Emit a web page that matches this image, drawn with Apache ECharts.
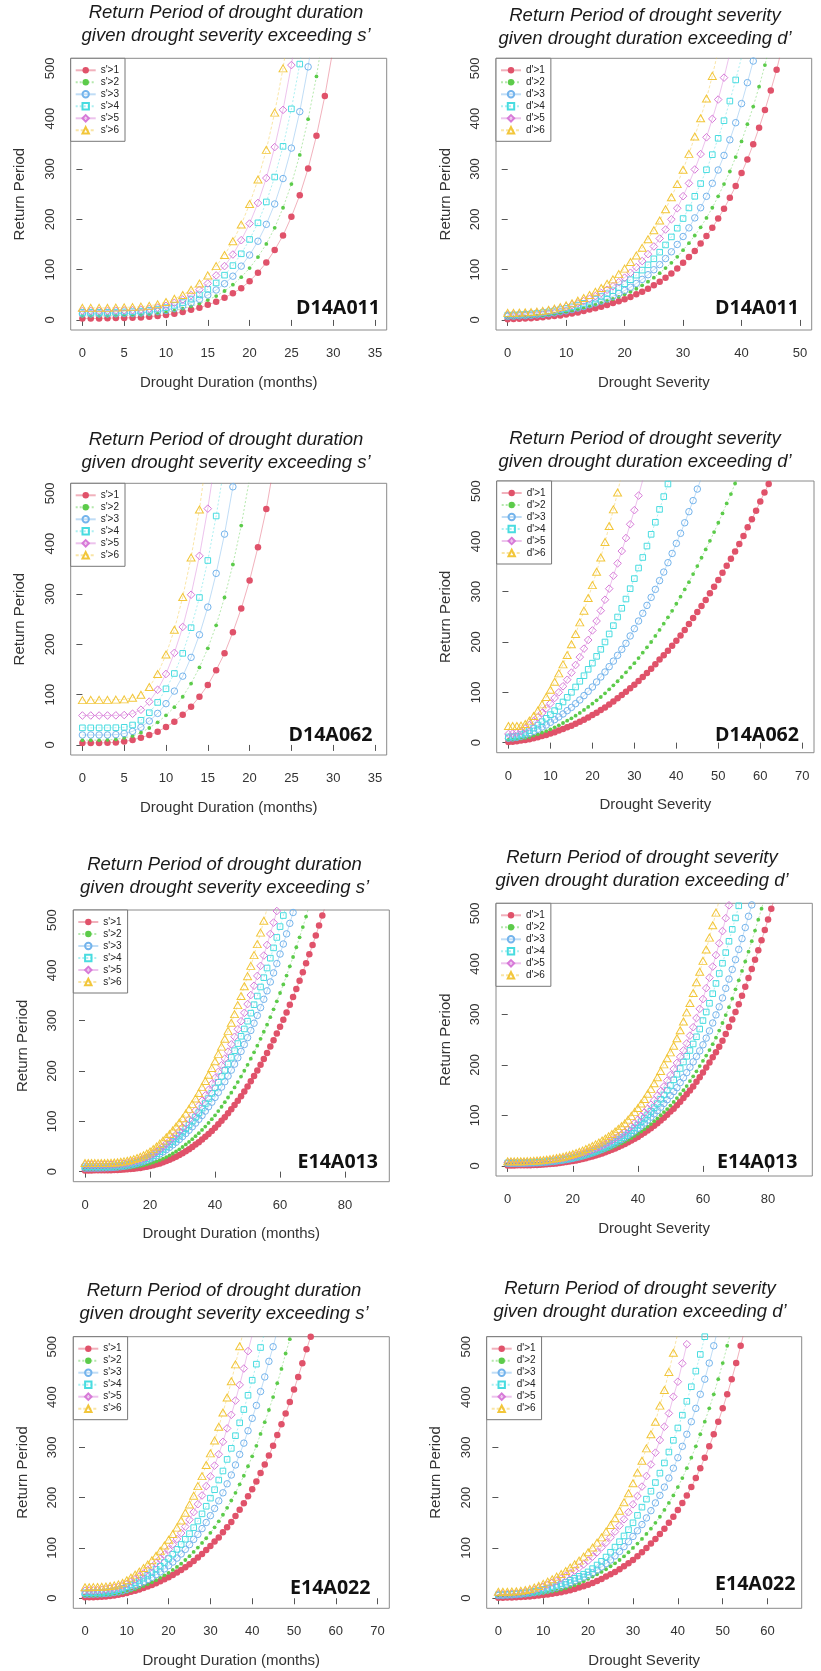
<!DOCTYPE html>
<html>
<head>
<meta charset="utf-8">
<script src="https://cdn.jsdelivr.net/npm/echarts@6/dist/echarts.min.js"></script>
<style>
html, body { margin: 0; padding: 0; background: #ffffff; }
#chart { width: 821px; height: 1671px; }
</style>
</head>
<body>
<div id="chart"></div>
<script>
// Legend labels for the two kinds of conditional return-period curves
const sLabels = ["s'>1", "s'>2", "s'>3", "s'>4", "s'>5", "s'>6"];
const dLabels = ["d'>1", "d'>2", "d'>3", "d'>4", "d'>5", "d'>6"];

// Tick labels
const yTicks = [0, 100, 200, 300, 400, 500];
const ticks35 = [0, 5, 10, 15, 20, 25, 30, 35];
const ticks50 = [0, 10, 20, 30, 40, 50];
const ticks60 = [0, 10, 20, 30, 40, 50, 60];
const ticks70 = [0, 10, 20, 30, 40, 50, 60, 70];
const ticks80 = [0, 20, 40, 60, 80];

// Return period (years) for each threshold; array index = duration (months) or severity
const D14A011_duration = [
  [3,3,3,3.5,4,4,4.5,5,6.5,8,10,12.5,16,20,24,30,36,44,53,63,77,94,114,139,168,205,248,301,366,445,540],
  [8,8,8,8,8.5,9,9,10,11,12.5,15,18.5,22.5,27,32.5,39.5,47.5,57.5,70,85,103,125,151,183,223,270,328,399,484,588],
  [12,12,12,12,12.5,13,13,14,15.5,17,19,23,28,34,41,49.5,59.5,72,87,107,129,156.5,190,230.5,281,341.5,414,503,611],
  [15,15,15,15,15.5,16,16.5,17.5,19,21.5,24.5,29,34.5,41.5,50,61,73.5,89,108,131.5,160,193,234.5,284,345,419.5,508.5,617],
  [18,18,18,18,18.5,19,19.5,20.5,22,24.5,28,34,40.5,49.5,60,72.5,88.5,107,130,158.5,191.5,232.5,282,343.5,417.5,506.5,615],
  [24,24,24,24,24.5,25,25.5,26.5,28,31,35.5,42,49.5,60,72.5,88.5,107,129,156.5,189.5,230.5,279,338,412,500,607]
];

const D14A011_severity = [
  [1.5,2,2.5,3,3.5,4.5,5.3,6.6,8,9,11,13,15,18,20.5,23,26.4,29.7,33.7,37,41,45.6,51,56,62,68.7,76,84,92.5,102,113.6,125,137,152,167,183,201.5,221,243,266,292,319,349,382,417,456,497,545],
  [4.5,5,5.5,6,7,8,9,10.5,12,14,16,18.5,21,24,27,30.5,34,37.6,41.6,46,51,56,62,68.7,76,84,93,103,113.6,125.5,138.7,152.6,167.8,184,202.8,223,245.7,270,295,323.6,354.7,389,424,463.7,506.6,555],
  [7,7.5,8,8.5,9,10,11,12.5,14,16,18,20.5,23.5,26.5,30,33.5,37.5,42,47,52.5,58.5,65,72.5,80.6,89.8,99.7,110,122,135.4,150,165.8,183,202.8,223,245.7,271.5,298,327,358,392,430,471.6,514.5,565],
  [9.5,10,10.5,11,12,13,14.5,16,18,20.5,23,26,29.5,33,37,41.5,46.5,52,58,64.5,72,80,89,99,109.6,121.5,134.7,149,165,182.3,201.5,222.6,245.7,271,298.5,328.5,361,396,435,477,522],
  [10,10.5,11,11.8,12.8,14,15.5,17.3,19.5,22.5,26,29.5,33,37.5,42,47.5,53.5,60,67,75,84,93.8,105,117,130.8,146,161.8,179.7,200,222,246,271.5,299,329.6,363,399.6,438,481.5,530],
  [14,14,14.5,15,15.5,16.5,18,20,22.5,25.5,29,33,38.3,43.6,49.5,56,63.4,72,80.6,91,102,115,128,143.3,160.5,178.3,197.5,220,243.7,270,298.5,330,364.6,401,440,485,535]
];

const D14A062_duration = [
  [4,4,4,4.5,5,7,10,14.5,19.8,26.4,35.7,46,60,76,95.8,119,148.6,182,224,271,327,393,469,565],
  [9.5,9.5,9.5,10,11,14,17.8,24.4,33.7,45,58.8,75,95.8,122,154,192,237.8,293,358.6,436,530],
  [19.8,19.8,19.8,19.8,20.5,22.5,27,35,47.6,62.7,82,107,136.7,174,219,274,341,419,513,620],
  [34,34,34,34,34.3,35,39.6,49,64,84.5,111.6,142,182,233,293,366.6,455,556],
  [58.5,58.5,58.5,58.5,58.8,59.4,62,70,86,109.6,141,183,234.5,298.5,375.8,469.6,580],
  [89,89.5,89.5,89.5,90,90.5,93.8,99.7,115,141,179.7,229,294,372.5,468,590]
];

const D14A062_severity = [
  [1.3,2,2.6,4,5.3,6.6,8.6,10.6,13,15,18,20.5,24,27,30.5,33.8,37.7,41.7,45.7,50,55,59.6,65,70,76,82,88,94.7,101.3,108,115.2,122.5,130.5,138.4,147,155.6,165,173.5,182.8,192.7,202.6,213,224,235.8,247.7,259.6,271.5,283.4,296.7,310,323,337.7,351.7,365.6,380,395,410.6,428,444,461,479.5,497,514,532],
  [5.3,6,6.6,8,9,11,14,16.6,20,23,26.5,30.5,34.4,39,43.7,48.3,53.6,59,65,71,77.5,84,90.7,98,106,114,122,130.5,139.7,149,158,168,178.8,189.4,200,212,224,236.4,249,262,276,290,304.6,319,335,351,367.5,384,401,418.5,437,455.6,475.5,494,515,536],
  [8.6,9.3,10.6,12.6,15.2,18.5,22.5,26.5,31,35,40.4,45.7,51,57,63.6,70,77.5,84.8,93.4,102,110.6,120.5,130.5,140.4,151,162,173.5,185.4,197.4,212,226.5,241.7,257,272.8,288.7,304.6,322,339,357.6,376,396,416,437,459,481,504,527],
  [11.3,12,13,16,19.2,23.8,29,35,41.7,48.3,55.6,63.6,72.2,80.8,90,100,110.6,121.9,133,145.7,158,171.5,185.4,200,216,232.5,249.7,267,285.4,306,326,347,368,390.7,414,438,463.6,489,514,540],
  [17.2,18,20,23,28.5,35,42.4,50.3,59,68,78,88.7,100,112,125,139,154.3,170,186.8,204,223,241.7,262.3,284,306,331.8,356.3,380.8,406.6,434,462,491,522,553],
  [33,33,33,33.8,37,43.7,53,63.6,76,90.7,105,121,137.7,155.6,174,195.4,216,239,262.3,287.4,313,339.7,368,398.7,430.5,463.6,497,535]
];

const E14A013_duration = [
  [2.5,2.5,2.5,2.51,2.53,2.57,2.64,2.74,2.87,3.06,3.3,3.61,4,4.5,5.04,5.7,6.5,7.4,8.5,9.7,11.1,12.7,14.5,16.4,18.6,21,23.7,26.6,29.7,33,36.6,40.5,44.6,49,53.7,58.6,63.8,69.3,75,81,87.3,94,101,108.3,116,124,132.3,141,150,159.5,169.3,179.5,190,201,212.3,224,236,248.5,261.3,274.5,288,302,316.5,331.5,347,363,379.5,396.5,414,432,450.5,469.5,489,509,529.5],
  [5,5,5,5,5.05,5.09,5.17,5.3,5.47,5.7,6,6.4,6.9,7.5,8.2,9.1,10.1,11.3,12.7,14.3,16.1,18.1,20.4,22.9,25.8,28.9,32.3,36,40,44.4,49,54,59.1,64.6,70.4,76.5,83,89.6,96.8,104.3,112,120.4,129,138,147.3,157,167.3,178,189,200.5,212.3,224.6,237.2,250.4,264,278,292,307,322.5,338.5,355,372,389.7,408,426.6,446,465.7,486,507,528.5],
  [7,7,7,7.02,7.05,7.23,7.41,7.67,8,8.48,9.06,9.8,10.65,11.7,12.9,14.4,16,17.9,20.05,22.5,25.2,28.2,31.5,35.2,39.2,43.6,48.2,53.2,58.4,63.9,69.8,75.9,82.3,89.2,96.4,103.9,111.6,120.3,129,138,147.6,157.5,168,178.8,190,201.7,213.7,226.3,239,252.6,266.3,280.6,295,310.4,326,342.5,359.3,377,395,413.5,432.5,452.4,472.6,493.5,515,537],
  [10,10,10,10,10.09,10.18,10.33,10.55,10.87,11.3,11.83,12.5,13.4,14.4,15.6,17.1,18.8,20.8,23.1,25.7,28.7,32,35.7,39.8,44.4,49.2,54.5,60,65.8,72,78.6,85.5,92.8,100.5,108.6,117.2,126.2,135.4,145.3,155.6,166.4,177.6,189.2,201.3,214,227,240.4,254.5,269,283.6,299,315,331.8,349,367,385.5,404.7,424.3,444.7,465.5,487,509,531],
  [13,13,13,13,13.03,13.1,13.2,13.36,13.6,13.9,14.4,15,15.75,16.7,17.9,19.4,21.1,23.2,25.65,28.5,31.8,35.6,39.9,44.8,50,55.4,61.2,67.4,73.9,80.7,88,95.7,103.8,112.5,121.6,131,141,151.4,162.6,174,186,198.2,211.2,224.6,238.5,253,268,283,299,315.6,333,351,369.5,389,409,429.5,450.5,472.4,495,518],
  [17,17,17,17,17.02,17.13,17.26,17.46,17.76,18.2,18.74,19.5,20.4,21.6,23.1,24.9,27.1,29.6,32.6,36.1,40.1,44.7,50,55.6,61.6,68.2,74.8,82,89.6,97.7,106.2,115.3,124.8,134.7,145.3,156.3,168,180,192.6,205.8,219.5,234,248.5,264,279.7,296,313,331,349,368.5,388.5,409,430.3,452.2,475,498.5,523]
];

const E14A013_severity = [
  [1,1,1.02,1.05,1.11,1.2,1.34,1.51,1.73,2,2.34,2.73,3.18,3.71,4.31,5,5.75,6.6,7.53,8.56,9.7,10.9,12.2,13.7,15.2,16.9,18.6,20.5,22.5,24.7,26.9,29.3,31.9,34.5,37.4,40.3,43.4,46.7,50.1,53.7,57.4,61.6,65.6,70,74.5,79.3,84.5,90,95.3,101.5,107.5,113.4,120,127,134.5,142,149.5,157,166.5,175.5,185,195,205,215,225,236,248,261,275,290,305,320,337,355,372,390,408,427,447,467,488,509,531],
  [3,3,3.02,3.05,3.12,3.22,3.36,3.54,3.78,4.07,4.42,4.84,5.32,5.88,6.52,7.24,8.05,8.95,9.94,11,12.2,13.5,14.9,16.5,18.1,19.9,21.7,23.7,25.9,28.2,30.6,33.1,35.8,38.7,41.7,44.8,48.1,51.6,55.2,59.4,63.7,68,72.7,77.6,82.8,88.5,94,100.3,106.5,112.6,119.4,126.6,134.4,142.2,150,158,168,177.3,187.3,197.7,208,218.5,229.3,241,254,268,283,298.7,314.3,331.2,349.6,367.5,386,404.8,424.3,445,466,487.6,509.4,531],
  [5,5,5.02,5.05,5.11,5.2,5.34,5.52,5.76,6.05,6.41,6.85,7.35,7.94,8.62,9.4,10.3,11.2,12.3,13.5,14.8,16.3,17.8,19.5,21.4,23.4,25.5,27.8,30.2,32.8,35.6,38.6,41.7,45,48.5,52.1,56,60.4,64.7,69.3,74.1,79.3,84.8,90.7,96.5,103.1,109.5,116.1,123.7,131.1,139.2,147.2,154.9,165,174.6,184.7,195.4,206,216.8,227.8,239.8,253,267.4,283,299,315,332.6,351.6,370,389,408.4,428.7,450,472,494.3,516.8],
  [6,6,6.02,6.05,6.11,6.22,6.36,6.55,6.8,7.11,7.49,7.95,8.48,9.11,9.83,10.65,11.57,12.6,13.74,15,16.4,17.9,19.6,21.4,23.3,25.4,27.7,30.1,32.7,35.4,38.4,41.5,44.8,48.2,51.9,55.8,59.9,64.6,69.8,75.2,81,87.4,93.8,101,108,115.4,123.4,132,140.6,150,159.3,170.4,181.4,193,205.7,217,228.6,241.5,255.7,271,287.8,304.7,322,341,361.3,381,401.3,422.4,444.8,468.4,491,515,538],
  [7,7,7.02,7.06,7.13,7.24,7.4,7.62,7.9,8.25,8.68,9.19,9.79,10.5,11.3,12.2,13.3,14.4,15.7,17.1,18.7,20.4,22.3,24.3,26.5,28.8,31.4,34.1,37,40.1,43.4,46.9,50.6,54.5,58.6,63,67.6,73,78.7,85,91.6,98.6,105.9,113.2,121.2,130,139,148.2,157.3,168.8,180,191.8,203.9,216,228.5,242.5,258,274.6,292.7,311,330.4,352,372.7,394.7,417.4,440.8,465,490.5,516,540],
  [9,9,9.02,9.07,9.16,9.3,9.5,9.77,10.1,10.6,11.1,11.7,12.5,13.4,14.4,15.5,16.8,18.2,19.8,21.6,23.6,25.7,28,30.5,33.3,36.2,39.4,42.7,46.4,50.2,54.3,58.7,63.3,68.2,73.3,78.8,84.5,91.6,99,107,114.7,123.5,132.5,142.8,152.5,163.6,175.5,188,201,213,224.8,238,252.7,268.7,286,304,322.4,342.3,363.5,384.4,406,428.4,452,476.5,501.5,526.5]
];

const E14A022_duration = [
  [2,2,2.2,2.5,3,3.6,4.4,5.6,7,8.6,10.6,12.8,15,17.5,20.5,23.2,26.5,29.8,33.8,37.7,41.7,46.4,51,56.3,61.6,67.5,74,80.8,88,96,104,112.6,121,131,141,151.7,163.6,176,188.7,202.6,216.6,232,249,266,284,303,324.5,345.7,367.5,390,415,440,467,495,520,546],
  [5,5,5,5.2,5.5,6,6.6,7.6,8.8,10.5,12.6,15,17.8,21,24.2,27.8,31.8,36,40.5,45.5,50.5,56.3,62.2,68.8,76,83.7,92,100.8,110,119.3,130,141,152.9,166,179.8,194.3,209.6,226.4,243.5,262.4,282.2,303,326.6,350,374.3,400,427.5,456,486.6,515,545],
  [8,8,8.1,8.3,8.7,9.3,10.2,11.4,13,15,17.6,21,24.4,28.2,32.4,37,41.5,46.9,52.3,58.4,64.8,72,79.8,88,97.2,106.6,117,127,138.5,150.6,164.2,178.5,193.6,209.6,227.5,245,265,286,308.4,333,357.7,383.3,411,440,471,500,531.7],
  [11,11,11.1,11.3,11.7,12.4,13.5,15,17,19.5,22.7,26.5,30.6,35.4,40,45.5,51,57.4,63.6,71,79,87.6,97.1,106.9,117.3,128.4,140.4,153.4,167.8,182.9,199,215.8,235,253,276,298,323.2,348.8,375.2,403.5,433.5,465.4,498.5,529],
  [15,15.2,15.5,16,16.8,17.8,19,20.5,22.5,25,28.5,33.4,38.1,43.6,49.2,55.8,62.5,69.9,78.3,87,97,107.2,117.8,129.7,142.3,156,171.3,187,204.3,222.9,242.3,263.7,286.3,311,337.7,364.7,393,424.3,456.7,491.4,523],
  [22,22,22.1,22.3,22.7,23.3,24.2,25.5,27.5,30.6,35.8,41,46.9,52.9,60,67.2,75.6,84.5,94.4,104.8,116.2,127.6,140.4,154.4,170,186.2,203.7,222.9,242.8,265,288,313.7,341,369.3,399,431.3,465,501,533]
];

const E14A022_severity = [
  [1,1.1,1.3,1.6,2,2.4,3,3.6,4.4,5.3,6.3,7.5,8.8,10.3,12,13.9,15.9,18.5,21.2,23.8,27,30.5,34.4,38.4,43,47.7,52.3,57.6,63.6,69.5,76,83.4,91.4,100,108.6,118,127.8,138.4,150,162,175.5,189.5,204.5,221,239,258.5,279.5,302,326,351,377.5,405.5,435.5,467.5,502,538],
  [3.2,3.4,3.7,4.1,4.6,5.2,5.9,6.7,7.6,8.7,10,11.5,13.2,15.1,17.3,19.8,22.6,25.8,29.5,33.7,38.4,43,47.7,52.3,57.6,63.6,69.5,76,83.4,91.4,100,108.6,118,127.8,138.4,150,162,175.5,189.5,204.5,221,239,258.5,279.5,302,326,351,377.5,405.5,435.5,467.5,502,538],
  [5.4,5.7,6.1,6.6,7.2,7.9,8.8,9.9,11.2,12.8,14.6,16.6,18.9,21.4,24.2,27.3,30.7,34.4,38.4,41.8,45.4,50.5,56,62.4,68.9,76,84.2,93.1,102.6,112.4,122.9,134.2,146.5,159.6,174.1,189.5,204.5,221,239,258.5,279.5,302,326,351,377.5,405.5,435.5,467.5,502,538],
  [7,7.3,7.7,8.2,8.9,9.8,10.9,12.2,13.7,15.5,17.6,19.9,22.5,25.4,28.6,32,35.7,39.6,43.5,47.8,52.3,58.8,66,73.4,81.9,91.4,101.7,112.4,123.9,136.3,150,164.7,181.1,197,212.8,230,248.7,269,290.7,314,338.5,364,391.5,420.5,451.5,484.7,520],
  [8,8,8.2,8.6,9.4,10.5,12,14,16.6,20,23,27,31,35,39.7,44.4,49.7,55,61,67.5,74.8,82.8,91.4,101,110.6,121,132.5,144.4,157,171,186.8,203.3,222,243,266,289.4,314.6,341,367.5,400.7,430.5,467,505],
  [12.8,12.8,13,13.3,14,15,16.5,18.5,21.2,24.5,28.5,33,37.7,43,48.3,54.3,61,67.5,74.8,82.8,91.4,100.7,110.6,121,132.5,145.7,159,174,190.7,208.6,228.5,250,273.5,298,326,351,383,414,450,488,528]
];

// Marker and line look of the six threshold curves
const COLORS = ['#E0526A', '#5CCB4A', '#74B4EC', '#48DCE0', '#D77AD8', '#F2C63A'];
const MARKERS = [
  { symbol: 'circle',   size: 6.5,    filled: true,  dash: 'solid' },
  { symbol: 'circle',   size: 3.8,    filled: true,  dash: [2, 2] },
  { symbol: 'circle',   size: 6.5,    filled: false, dash: 'solid' },
  { symbol: 'rect',     size: 5.6,    filled: false, dash: [2, 2] },
  { symbol: 'diamond',  size: 7.6,    filled: false, dash: 'solid' },
  { symbol: 'triangle', size: [8, 7], filled: false, dash: [3, 2] }
];

const DUR_TITLE = 'Return Period of drought duration\ngiven drought severity exceeding s\u2019';
const SEV_TITLE = 'Return Period of drought severity\ngiven drought duration exceeding d\u2019';
const DUR_AXIS = 'Drought Duration (months)';
const SEV_AXIS = 'Drought Severity';

// Panel layout (pixel boxes of each plot region)
const panels = [
  { id: 'D14A011', curves: D14A011_duration, labels: sLabels, ticks: ticks35, xMax: 35, title: DUR_TITLE, xName: DUR_AXIS,
    box: [70.7, 58.3, 316, 271.7], titleAt: [226, 2], idAt: [380, 297.5] },
  { id: 'D14A011', curves: D14A011_severity, labels: dLabels, ticks: ticks50, xMax: 50, title: SEV_TITLE, xName: SEV_AXIS,
    box: [496, 58.3, 315.7, 271.7], titleAt: [645, 4.5], idAt: [799, 297.5] },
  { id: 'D14A062', curves: D14A062_duration, labels: sLabels, ticks: ticks35, xMax: 35, title: DUR_TITLE, xName: DUR_AXIS,
    box: [70.7, 483.3, 316, 271.7], titleAt: [226, 428.5], idAt: [372.5, 724.5] },
  { id: 'D14A062', curves: D14A062_severity, labels: dLabels, ticks: ticks70, xMax: 70, title: SEV_TITLE, xName: SEV_AXIS,
    box: [496.7, 481, 317.3, 271.7], titleAt: [645, 427.5], idAt: [799, 724.5] },
  { id: 'E14A013', curves: E14A013_duration, labels: sLabels, ticks: ticks80, xMax: 90, title: DUR_TITLE, xName: DUR_AXIS,
    box: [73.3, 910, 316, 271.7], titleAt: [224.5, 853.5], idAt: [378, 1151] },
  { id: 'E14A013', curves: E14A013_severity, labels: dLabels, ticks: ticks80, xMax: 90, title: SEV_TITLE, xName: SEV_AXIS,
    box: [496, 903.3, 316.3, 272.7], titleAt: [642, 847], idAt: [797.5, 1151] },
  { id: 'E14A022', curves: E14A022_duration, labels: sLabels, ticks: ticks70, xMax: 70, title: DUR_TITLE, xName: DUR_AXIS,
    box: [73.3, 1336.7, 316, 271.6], titleAt: [224, 1280], idAt: [370.5, 1577.5] },
  { id: 'E14A022', curves: E14A022_severity, labels: dLabels, ticks: ticks60, xMax: 65, title: SEV_TITLE, xName: SEV_AXIS,
    box: [486.7, 1336.7, 315, 271.6], titleAt: [640, 1278], idAt: [795.5, 1573.5] }
];

const FONT = 'Liberation Sans, Arial, sans-serif';
const grids = [], xAxes = [], yAxes = [], titles = [], legends = [], series = [];

panels.forEach((p, i) => {
  const [left, top, width, height] = p.box;
  grids.push({ left, top, width, height, containLabel: false, show: true,
    borderColor: '#8a8a8a', borderWidth: 1, backgroundColor: 'transparent' });

  // R-style axis: limits padded by 4% on each side, ticks only at the pretty values
  xAxes.push({
    gridIndex: i, type: 'value', min: -0.04 * p.xMax, max: 1.04 * p.xMax,
    axisLine: { show: false }, splitLine: { show: false },
    axisTick: { show: true, customValues: p.ticks, length: 6, lineStyle: { color: '#555', width: 1 } },
    axisLabel: { customValues: p.ticks, margin: 17, fontSize: 13, color: '#333', fontFamily: FONT },
    name: p.xName, nameLocation: 'middle', nameGap: 45,
    nameTextStyle: { fontSize: 15, color: '#333', fontFamily: FONT }
  });
  yAxes.push({
    gridIndex: i, type: 'value', min: -20, max: 520,
    axisLine: { show: false }, splitLine: { show: false },
    axisTick: { show: true, customValues: yTicks, length: 6, lineStyle: { color: '#555', width: 1 } },
    axisLabel: { customValues: yTicks, rotate: 90, margin: 14, fontSize: 13, color: '#333', fontFamily: FONT },
    name: 'Return Period', nameLocation: 'middle', nameGap: 43,
    nameTextStyle: { fontSize: 15, color: '#333', fontFamily: FONT }
  });

  titles.push({
    text: p.title, left: p.titleAt[0], top: p.titleAt[1], textAlign: 'center', padding: 0,
    textStyle: { fontSize: 18.5, fontStyle: 'italic', fontWeight: 'normal', color: '#1a1a1a',
      fontFamily: FONT, lineHeight: 22.7 }
  });
  titles.push({
    text: p.id, left: p.idAt[0], top: p.idAt[1], textAlign: 'right', padding: 0,
    textStyle: { fontSize: 19.6, fontWeight: 'bold', color: '#111', fontFamily: 'Open Sans, sans-serif', lineHeight: 22 }
  });

  legends.push({
    orient: 'vertical', left: left, top: top, data: p.labels, selectedMode: false,
    borderColor: '#777', borderWidth: 1, borderRadius: 0, backgroundColor: '#fff',
    padding: [7, 6, 6, 4], itemWidth: 20, itemHeight: 8, itemGap: 2,
    textStyle: { fontSize: 10, color: '#222', fontFamily: FONT, lineHeight: 10 }
  });

  p.curves.forEach((vals, k) => {
    const m = MARKERS[k];
    series.push({
      type: 'line', name: p.labels[k], xAxisIndex: i, yAxisIndex: i,
      data: vals.map((v, x) => [x, v]),
      symbol: m.symbol, symbolSize: m.size, showSymbol: true, clip: true,
      itemStyle: m.filled
        ? { color: COLORS[k], borderWidth: 0 }
        : { color: 'rgba(255,255,255,0)', borderColor: COLORS[k], borderWidth: 1 },
      lineStyle: { color: COLORS[k], width: 1, type: m.dash, opacity: 0.45 },
      emphasis: { disabled: true }, silent: true, animation: false, z: 2 + k
    });
  });
});

const chart = echarts.init(document.getElementById('chart'), null, { renderer: 'canvas' });
chart.setOption({
  animation: false,
  backgroundColor: '#ffffff',
  textStyle: { fontFamily: FONT },
  title: titles,
  legend: legends,
  grid: grids,
  xAxis: xAxes,
  yAxis: yAxes,
  series: series
});
</script>
</body>
</html>
